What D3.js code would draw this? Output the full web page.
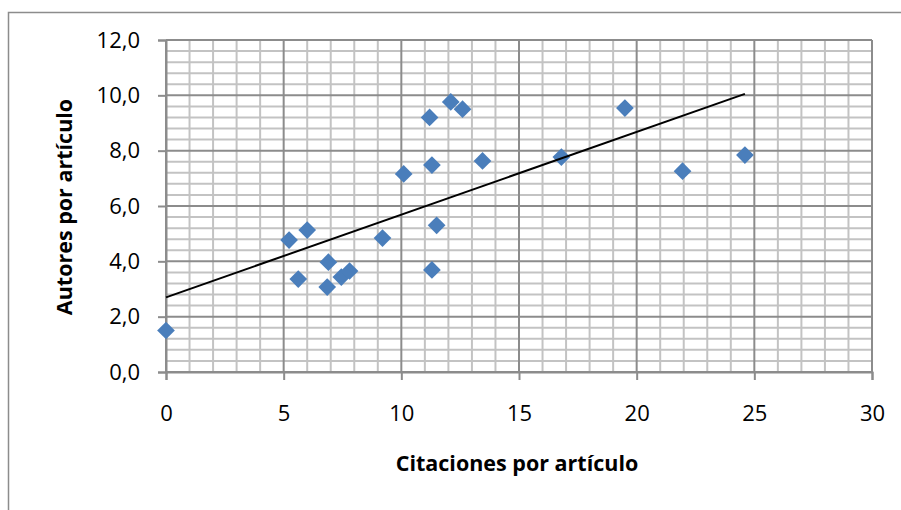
<!DOCTYPE html>
<html>
<head>
<meta charset="utf-8">
<script src="https://cdn.jsdelivr.net/npm/d3@7/dist/d3.min.js"></script>
<style>
  html, body { margin: 0; padding: 0; background: #fff; }
  svg { display: block; }
  text { font-family: "Open Sans", "Lato", sans-serif; fill: #000; }
</style>
</head>
<body>
<svg id="chart" width="901" height="510"></svg>
<script>
// Data
const citaciones = [0, 5.23, 6.0, 5.62, 6.9, 6.85, 7.45, 7.8, 9.2, 10.1, 11.2, 11.3, 11.3, 11.5, 12.1, 12.6, 13.45, 16.8, 19.5, 21.95, 24.6];
const autores    = [1.5, 4.77, 5.13, 3.36, 3.97, 3.07, 3.43, 3.65, 4.84, 7.16, 9.2, 7.48, 3.69, 5.3, 9.76, 9.5, 7.63, 7.77, 9.54, 7.26, 7.84];
const xTicks = [0, 5, 10, 15, 20, 25, 30];
const yTicks = [0, 2, 4, 6, 8, 10, 12];
const xTitle = "Citaciones por artículo";
const yTitle = "Autores por artículo";

const svg = d3.select("#chart");
const W = 901, H = 510;
const m = { left: 166, right: 872, top: 40, bottom: 372 };

// chart frame
svg.append("rect")
  .attr("x", 8.5).attr("y", 12.5)
  .attr("width", W + 10).attr("height", H + 10)
  .attr("fill", "#fff").attr("stroke", "#8c8c8c").attr("stroke-width", 1.5);

const x = d3.scaleLinear().domain([0, 30]).range([m.left, m.right]);
const y = d3.scaleLinear().domain([0, 12]).range([m.bottom, m.top]);

const g = svg.append("g");

// minor gridlines
const xMinor = d3.range(0, 31, 1).filter(v => v % 5 !== 0);
const yMinor = d3.range(0, 61, 2).map(v => v / 5).filter(v => Math.abs(v / 2 - Math.round(v / 2)) > 1e-6);
g.selectAll(".xminor").data(xMinor).join("line")
  .attr("x1", d => x(d)).attr("x2", d => x(d))
  .attr("y1", m.top).attr("y2", m.bottom)
  .attr("stroke", "#c3c3c3").attr("stroke-width", 2);
g.selectAll(".yminor").data(yMinor).join("line")
  .attr("y1", d => y(d)).attr("y2", d => y(d))
  .attr("x1", m.left).attr("x2", m.right)
  .attr("stroke", "#c3c3c3").attr("stroke-width", 2);

// major gridlines
g.selectAll(".xmajor").data(xTicks).join("line")
  .attr("x1", d => x(d)).attr("x2", d => x(d))
  .attr("y1", m.top).attr("y2", m.bottom)
  .attr("stroke", "#8c8c8c").attr("stroke-width", 2);
g.selectAll(".ymajor").data(yTicks).join("line")
  .attr("y1", d => y(d)).attr("y2", d => y(d))
  .attr("x1", m.left).attr("x2", m.right)
  .attr("stroke", "#8c8c8c").attr("stroke-width", 2);

// axes
const fmt = d => d.toFixed(1).replace(".", ",");
const yAxis = d3.axisLeft(y).tickValues(yTicks).tickSize(8).tickPadding(18).tickFormat(fmt);
const xAxis = d3.axisBottom(x).tickValues(xTicks).tickSize(8).tickPadding(25).tickFormat(d3.format("d"));

const ya = svg.append("g").attr("transform", `translate(${m.left},0)`).call(yAxis);
const xa = svg.append("g").attr("transform", `translate(0,${m.bottom})`).call(xAxis);
[ya, xa].forEach(a => {
  a.select(".domain").attr("stroke", "#8c8c8c").attr("stroke-width", 2);
  a.selectAll(".tick line").attr("stroke", "#8c8c8c").attr("stroke-width", 2);
  a.selectAll(".tick text").style("font-size", "22px").attr("fill", "#000");
});

// points
const pts = citaciones.map((c, i) => ({ x: c, y: autores[i] }));
const diamond = d3.symbol().type(d3.symbolDiamond2).size(200);
svg.append("g").selectAll("path").data(pts).join("path")
  .attr("transform", d => `translate(${x(d.x)},${y(d.y)})`)
  .attr("d", diamond)
  .attr("fill", "#4a7ebb");

// linear trend line (least squares)
const mx = d3.mean(citaciones), my = d3.mean(autores);
const sxy = d3.sum(pts, p => (p.x - mx) * (p.y - my));
const sxx = d3.sum(pts, p => (p.x - mx) * (p.x - mx));
const slope = sxy / sxx, icpt = my - slope * mx;
const x0 = d3.min(citaciones), x1 = d3.max(citaciones);
svg.append("line")
  .attr("x1", x(x0)).attr("y1", y(icpt + slope * x0))
  .attr("x2", x(x1)).attr("y2", y(icpt + slope * x1))
  .attr("stroke", "#000").attr("stroke-width", 2);

// titles
svg.append("text")
  .attr("x", 517).attr("y", 471)
  .attr("text-anchor", "middle")
  .style("font-size", "21.5px").style("font-weight", "bold")
  .text(xTitle);
svg.append("text")
  .attr("transform", `translate(72,207) rotate(-90)`)
  .attr("text-anchor", "middle")
  .style("font-size", "21.5px").style("font-weight", "bold")
  .text(yTitle);
</script>
</body>
</html>
